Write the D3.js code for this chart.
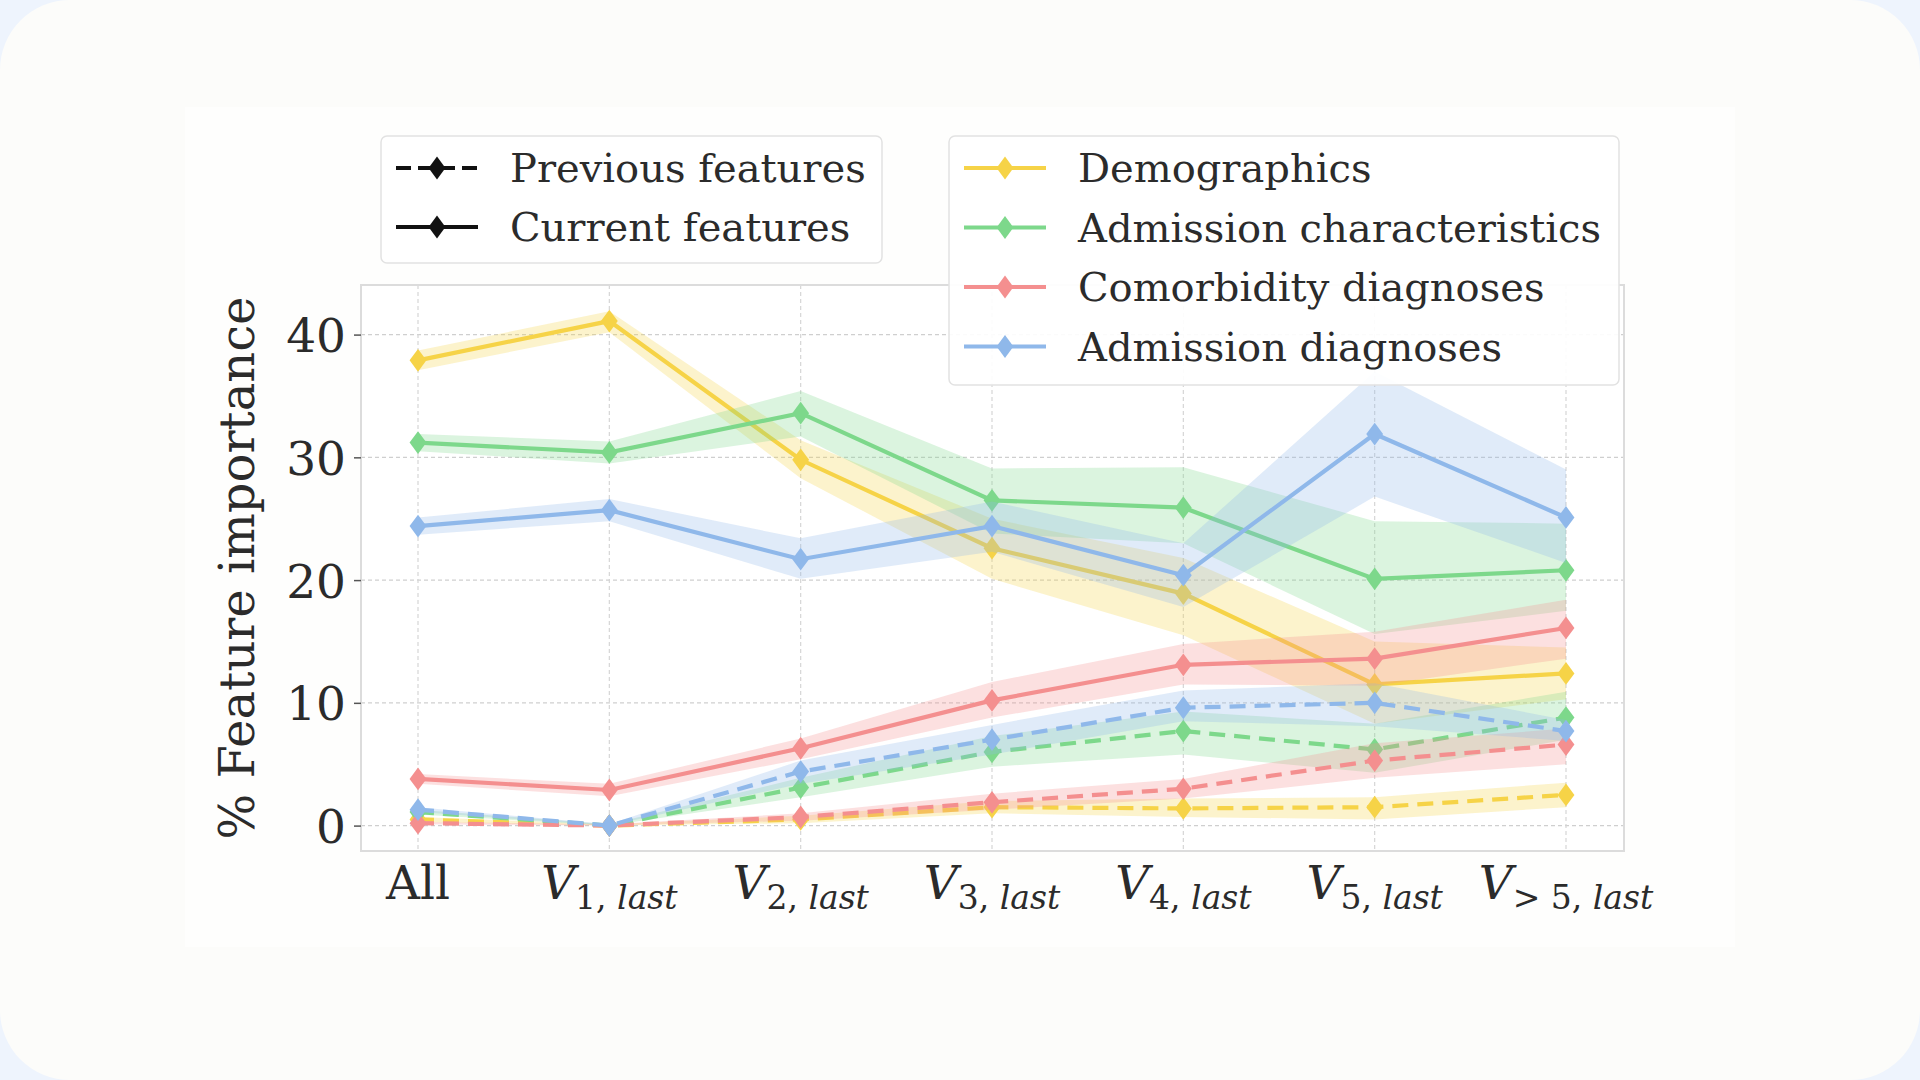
<!DOCTYPE html>
<html>
<head>
<meta charset="utf-8">
<script src="https://cdn.jsdelivr.net/npm/d3@7"></script>
<style>
  html, body { margin: 0; padding: 0; background: #eef4fd; }
  svg { display: block; }
  text { font-family: "DejaVu Serif", serif; fill: #2b2b2b; }
</style>
</head>
<body>
<svg id="chart" width="1920" height="1080"></svg>
<script>
// categories on the x axis
const categories = ["All", "V1", "V2", "V3", "V4", "V5", "V>5"];
const subscripts = ["", "1", "2", "3", "4", "5", "> 5"];
const yTicks = [0, 10, 20, 30, 40];

const groups = ["Demographics", "Admission characteristics", "Comorbidity diagnoses", "Admission diagnoses"];
const colors = ["#f6d347", "#7dd88b", "#f48f8f", "#8fb8ea"];

// current features (solid lines): mean, lower and upper band
const currentMean = [
  [37.9, 41.1, 29.8, 22.6, 18.9, 11.5, 12.4],
  [31.2, 30.4, 33.6, 26.5, 25.9, 20.1, 20.8],
  [3.8, 2.9, 6.3, 10.2, 13.1, 13.6, 16.1],
  [24.4, 25.7, 21.7, 24.4, 20.4, 31.9, 25.1]
];
const currentLow = [
  [37.1, 40.2, 28.3, 20.1, 15.5, 8.3, 10.3],
  [30.5, 29.5, 31.7, 23.8, 23.0, 15.6, 17.5],
  [3.4, 2.4, 5.4, 8.8, 11.5, 11.4, 13.6],
  [23.7, 24.8, 20.1, 22.3, 17.8, 26.8, 21.4]
];
const currentHigh = [
  [38.7, 41.9, 31.4, 25.0, 21.8, 15.0, 14.5],
  [31.9, 31.3, 35.4, 29.1, 29.2, 24.8, 24.6],
  [4.2, 3.4, 7.1, 11.7, 14.8, 15.8, 18.4],
  [25.1, 26.6, 23.4, 26.4, 23.0, 37.0, 29.0]
];

// previous features (dashed lines)
const previousMean = [
  [0.5, 0.0, 0.5, 1.5, 1.4, 1.5, 2.5],
  [1.1, 0.0, 3.1, 6.0, 7.7, 6.2, 8.8],
  [0.2, 0.0, 0.7, 1.9, 3.0, 5.3, 6.6],
  [1.3, 0.0, 4.4, 7.0, 9.6, 10.0, 7.7]
];
const previousLow = [
  [0.3, 0.0, 0.2, 1.0, 0.7, 0.5, 1.5],
  [0.9, 0.0, 2.3, 4.8, 5.8, 4.3, 7.0],
  [0.1, 0.0, 0.4, 1.3, 2.2, 3.9, 5.0],
  [1.1, 0.0, 3.4, 5.8, 8.5, 8.1, 6.9]
];
const previousHigh = [
  [0.7, 0.1, 0.8, 2.0, 2.2, 2.3, 3.5],
  [1.3, 0.1, 3.9, 7.3, 9.3, 8.3, 10.9],
  [0.3, 0.1, 1.0, 2.6, 3.8, 6.7, 7.9],
  [1.5, 0.1, 5.3, 8.2, 11.0, 11.6, 8.6]
];

const svg = d3.select("#chart");

// card background
svg.append("rect").attr("x", 0).attr("y", 0).attr("width", 1920).attr("height", 1080)
  .attr("rx", 70).attr("fill", "#fcfcfa");
svg.append("rect").attr("x", 185).attr("y", 107).attr("width", 1550).attr("height", 840)
  .attr("fill", "#fefefd");

const plot = { left: 361, right: 1624, top: 285, bottom: 851 };

const x = d3.scalePoint().domain(categories).range([418, 1566]);
const y = d3.scaleLinear().domain([-2.07, 44.04]).range([plot.bottom, plot.top]);

// grid
const g = svg.append("g");
g.append("rect").attr("x", plot.left).attr("y", plot.top)
  .attr("width", plot.right - plot.left).attr("height", plot.bottom - plot.top)
  .attr("fill", "#ffffff");
g.selectAll(".hgrid").data(yTicks).join("line").attr("class", "hgrid")
  .attr("x1", plot.left).attr("x2", plot.right)
  .attr("y1", d => y(d)).attr("y2", d => y(d))
  .attr("stroke", "#cfcfcf").attr("stroke-width", 1.3).attr("stroke-dasharray", "4,3");
g.selectAll(".vgrid").data(categories).join("line").attr("class", "vgrid")
  .attr("x1", d => x(d)).attr("x2", d => x(d))
  .attr("y1", plot.top).attr("y2", plot.bottom)
  .attr("stroke", "#d6d6d6").attr("stroke-width", 1.2).attr("stroke-dasharray", "4,3");

// frame
g.append("rect").attr("x", plot.left).attr("y", plot.top)
  .attr("width", plot.right - plot.left).attr("height", plot.bottom - plot.top)
  .attr("fill", "none").attr("stroke", "#dcdcdc").attr("stroke-width", 2);

// y axis
const yAxis = g.append("g").attr("transform", `translate(${plot.left},0)`)
  .call(d3.axisLeft(y).tickValues(yTicks).tickSize(7).tickPadding(8));
yAxis.select(".domain").remove();
yAxis.selectAll(".tick line").attr("stroke", "#555").attr("stroke-width", 1.5);
yAxis.selectAll(".tick text").style("font-size", "47px").attr("fill", "#2b2b2b")
  .style("font-family", "DejaVu Serif").attr("dy", "0.36em");

svg.append("text").attr("transform", `translate(254,568) rotate(-90)`)
  .attr("text-anchor", "middle").style("font-size", "48px").text("% Feature importance");

// x tick labels
categories.forEach((c, i) => {
  const t = svg.append("text").attr("x", x(c)).attr("y", 899)
    .attr("text-anchor", "middle").style("font-size", "47px");
  if (i === 0) { t.text("All"); return; }
  t.append("tspan").style("font-style", "italic").text("V");
  const sub = t.append("tspan").attr("dy", 10).style("font-size", "33px");
  sub.append("tspan").text(subscripts[i]);
  sub.append("tspan").text(", ");
  sub.append("tspan").style("font-style", "italic").text("last");
});

// thin diamond marker
const thinDiamond = {
  draw(ctx, size) {
    const h = Math.sqrt(size) * 0.72, w = h * 0.74;
    ctx.moveTo(0, -h); ctx.lineTo(w, 0); ctx.lineTo(0, h); ctx.lineTo(-w, 0); ctx.closePath();
  }
};
const marker = d3.symbol().type(thinDiamond).size(250);

const area = d3.area().x(d => x(d.c)).y0(d => y(d.lo)).y1(d => y(d.hi));
const line = d3.line().x(d => x(d.c)).y(d => y(d.v));

function series(mean, lo, hi) {
  return categories.map((c, i) => ({ c, v: mean[i], lo: lo[i], hi: hi[i] }));
}

const marks = svg.append("g");
groups.forEach((name, k) => {
  const prev = series(previousMean[k], previousLow[k], previousHigh[k]);
  const cur = series(currentMean[k], currentLow[k], currentHigh[k]);
  [[prev, "16,9"], [cur, null]].forEach(([data, dash]) => {
    marks.append("path").attr("d", area(data)).attr("fill", colors[k]).attr("fill-opacity", 0.28);
    marks.append("path").attr("d", line(data)).attr("fill", "none")
      .attr("stroke", colors[k]).attr("stroke-width", 4.2)
      .attr("stroke-dasharray", dash);
    marks.selectAll(null).data(data).join("path")
      .attr("transform", d => `translate(${x(d.c)},${y(d.v)})`)
      .attr("d", marker).attr("fill", colors[k]);
  });
});

// legends
function legendBox(x0, y0, w, h) {
  svg.append("rect").attr("x", x0).attr("y", y0).attr("width", w).attr("height", h)
    .attr("rx", 6).attr("fill", "#ffffff").attr("fill-opacity", 0.92)
    .attr("stroke", "#e2e2e2").attr("stroke-width", 1.5);
}
function legendRow(x0, yy, color, dash, label) {
  svg.append("line").attr("x1", x0).attr("x2", x0 + 82).attr("y1", yy).attr("y2", yy)
    .attr("stroke", color).attr("stroke-width", 4).attr("stroke-dasharray", dash);
  svg.append("path").attr("transform", `translate(${x0 + 41},${yy})`)
    .attr("d", marker).attr("fill", color);
  svg.append("text").attr("x", x0 + 114).attr("y", yy).attr("dy", "0.36em")
    .style("font-size", "40px").text(label);
}

const styleLabels = ["Previous features", "Current features"];
legendBox(381, 136, 501, 127);
legendRow(396, 168, "#111", "15,7", styleLabels[0]);
legendRow(396, 227, "#111", null, styleLabels[1]);

legendBox(949, 136, 670, 249);
groups.forEach((name, k) => legendRow(964, 168 + k * 59.5, colors[k], null, name));
</script>
</body>
</html>
